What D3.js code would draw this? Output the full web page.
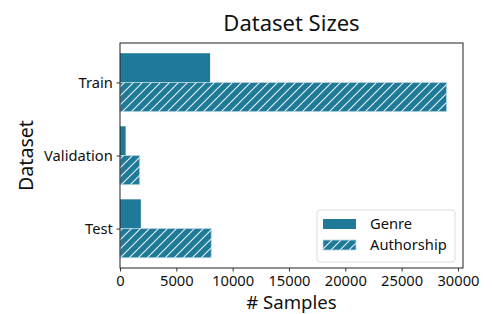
<!DOCTYPE html>
<html><head><meta charset="utf-8">
<script src="https://cdn.jsdelivr.net/npm/d3@7"></script>
<style>body{margin:0;background:#fff}svg{display:block;font-family:"Noto Sans",sans-serif}</style>
</head><body>
<script>
const categories = ["Train", "Validation", "Test"];
const seriesNames = ["Genre", "Authorship"];
const genre = [8000, 500, 1850];
const authorship = [29000, 1750, 8100];
const xTicks = [0, 5000, 10000, 15000, 20000, 25000, 30000];

const W = 492, H = 314;
const m = {left: 120, right: 29, top: 43, bottom: 46};
const color = "#1f7a99";
const P = 9;
const svg = d3.select("body").append("svg").attr("width", W).attr("height", H);
const defs = svg.append("defs");
const pat = defs.append("pattern").attr("id","hatch").attr("patternUnits","userSpaceOnUse")
  .attr("width",P).attr("height",P);
pat.append("rect").attr("width",P).attr("height",P).attr("fill",color);
pat.append("path").attr("d",`M-2,2 l4,-4 M0,${P} l${P},-${P} M${P-2},${P+2} l4,-4`)
  .attr("stroke","#e8f2f6").attr("stroke-width",1.1);

const x = d3.scaleLinear().domain([0, 30450]).range([m.left, W - m.right]);
const y = d3.scaleLinear().domain([-0.54, 2.54]).range([m.top, H - m.bottom]);
const bh = y(0.4) - y(0);

const g = svg.append("g");
g.selectAll(".g").data(genre).join("rect")
  .attr("x", x(0)).attr("y", (d,i) => y(i) - bh)
  .attr("width", d => x(d) - x(0)).attr("height", bh).attr("fill", color);
g.selectAll(".a").data(authorship).join("rect")
  .attr("x", x(0)).attr("y", (d,i) => y(i))
  .attr("width", d => x(d) - x(0)).attr("height", bh).attr("fill", "url(#hatch)")
  .attr("stroke","#b9d6e0").attr("stroke-width",0.8);

const xAxis = svg.append("g").attr("transform", `translate(0,${H - m.bottom})`)
  .call(d3.axisBottom(x).tickValues(xTicks).tickFormat(d3.format("d")).tickSize(3.5).tickSizeOuter(0));
const yAxis = svg.append("g").attr("transform", `translate(${m.left},0)`)
  .call(d3.axisLeft(y).tickValues([0,1,2]).tickFormat(i => categories[i]).tickSize(3.5).tickSizeOuter(0));
[xAxis, yAxis].forEach(a => {
  a.select(".domain").remove();
  a.selectAll("text").attr("font-size", 14.7).attr("fill", "#111").attr("font-family", '"Noto Sans",sans-serif');
  a.selectAll("line").attr("stroke", "#333");
});
xAxis.selectAll("text").attr("dy", "0.75em");
yAxis.selectAll("text").attr("dx", "-0.05em");

svg.append("rect").attr("x", m.left).attr("y", m.top)
  .attr("width", W - m.right - m.left).attr("height", H - m.bottom - m.top)
  .attr("fill", "none").attr("stroke", "#222").attr("stroke-width", 1);

svg.append("text").attr("x", (m.left + W - m.right)/2).attr("y", 31)
  .attr("text-anchor","middle").attr("font-size", 22).attr("fill","#111").text("Dataset Sizes");
svg.append("text").attr("x", (m.left + W - m.right)/2).attr("y", 309.3)
  .attr("text-anchor","middle").attr("font-size", 18.6).attr("fill","#111").text("# Samples");
svg.append("text").attr("transform", `translate(33,${(m.top + H - m.bottom)/2}) rotate(-90)`)
  .attr("text-anchor","middle").attr("font-size", 19.6).attr("fill","#111").text("Dataset");

const lg = svg.append("g").attr("transform","translate(317,210)");
lg.append("rect").attr("width",138).attr("height",52).attr("rx",3)
  .attr("fill","#fff").attr("fill-opacity",0.8).attr("stroke","#ddd");
seriesNames.forEach((n,i) => {
  lg.append("rect").attr("x",6).attr("y",9 + i*21).attr("width",33).attr("height",10)
    .attr("fill", i === 0 ? color : "url(#hatch)")
    .attr("stroke", i === 0 ? "none" : "#b9d6e0").attr("stroke-width",0.8);
  lg.append("text").attr("x",53).attr("y",19 + i*21).attr("font-size",14.7).attr("fill","#111").text(n);
});
</script>
</body></html>
